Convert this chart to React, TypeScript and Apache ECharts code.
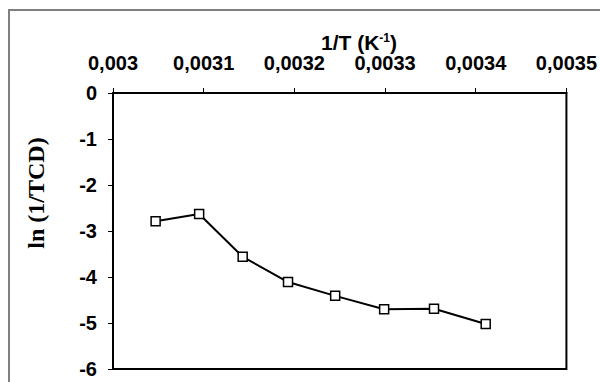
import React, { useEffect, useRef } from "react";
import * as echarts from "echarts";

const invT = [0.003047, 0.003095, 0.003143, 0.003193, 0.003245, 0.003299, 0.003354, 0.003411];
const lnInvTCD = [-2.79, -2.63, -3.56, -4.11, -4.41, -4.7, -4.69, -5.02];
const xMin = 0.003;
const xMax = 0.0035;
const xStep = 0.0001;
const yMin = -6;
const yMax = 0;
const yStep = 1;
const xTitle = "1/T (K";
const xTitleSup = "-1";
const yTitle = "ln (1/TCD)";

const sans = "'Liberation Sans', Arial, sans-serif";
const serif = "'Liberation Serif', 'Times New Roman', serif";

export default function App() {
  const ref = useRef<HTMLDivElement>(null);
  useEffect(() => {
    if (!ref.current) return;
    const chart = echarts.init(ref.current, undefined, { renderer: "svg" });
    const data = invT.map((x, i) => [x, lnInvTCD[i]]);
    chart.setOption({
      animation: false,
      backgroundColor: "#fff",
      grid: {
        left: 113,
        right: 33.5,
        top: 93,
        bottom: 13,
        show: true,
        borderColor: "#000",
        borderWidth: 2,
        backgroundColor: "transparent",
      },
      xAxis: {
        type: "value",
        position: "top",
        min: xMin,
        max: xMax,
        interval: xStep,
        axisLine: { show: true, onZero: false, lineStyle: { color: "#000", width: 2 } },
        axisTick: { show: true, inside: false, length: 5, lineStyle: { color: "#000", width: 1 } },
        splitLine: { show: false },
        axisLabel: {
          margin: 20,
          fontFamily: sans,
          fontWeight: "bold",
          fontSize: 20,
          color: "#000",
          formatter: (v: number) => parseFloat(v.toFixed(4)).toString().replace(".", ","),
        },
      },
      yAxis: {
        type: "value",
        min: yMin,
        max: yMax,
        interval: yStep,
        axisLine: { show: true, onZero: false, lineStyle: { color: "#000", width: 2 } },
        axisTick: { show: true, inside: false, length: 5, lineStyle: { color: "#000", width: 1 } },
        splitLine: { show: false },
        axisLabel: {
          margin: 16,
          fontFamily: sans,
          fontWeight: "bold",
          fontSize: 20,
          color: "#000",
          formatter: (v: number) => String(v),
        },
      },
      series: [
        {
          type: "line",
          data,
          symbol: "rect",
          symbolSize: 9,
          lineStyle: { color: "#000", width: 2 },
          itemStyle: { color: "#fff", borderColor: "#000", borderWidth: 1.5 },
        },
      ],
      graphic: [
        {
          type: "rect",
          shape: { x: 9, y: 10, width: 700, height: 500 },
          style: { fill: "none", stroke: "#7f7f7f", lineWidth: 2 },
          silent: true,
          z: -1,
        },
        {
          type: "text",
          x: 359,
          y: 42,
          style: {
            text: `{a|${xTitle}}{s|${xTitleSup}}{a|)}`,
            align: "center",
            verticalAlign: "middle",
            rich: {
              a: { fontFamily: sans, fontWeight: "bold", fontSize: 21, fill: "#000" },
              s: {
                fontFamily: sans,
                fontWeight: "bold",
                fontSize: 12,
                fill: "#000",
                verticalAlign: "top",
                padding: [0, 0, 9, 0],
              },
            },
          },
        },
        {
          type: "text",
          x: 36,
          y: 193,
          rotation: Math.PI / 2,
          style: {
            text: yTitle,
            align: "center",
            verticalAlign: "middle",
            fontFamily: serif,
            fontWeight: "bold",
            fontSize: 24,
            fill: "#000",
          },
        },
      ],
    });
    return () => chart.dispose();
  }, []);
  return <div ref={ref} style={{ width: 600, height: 382, position: "fixed", left: 0, top: 0 }} />;
}
